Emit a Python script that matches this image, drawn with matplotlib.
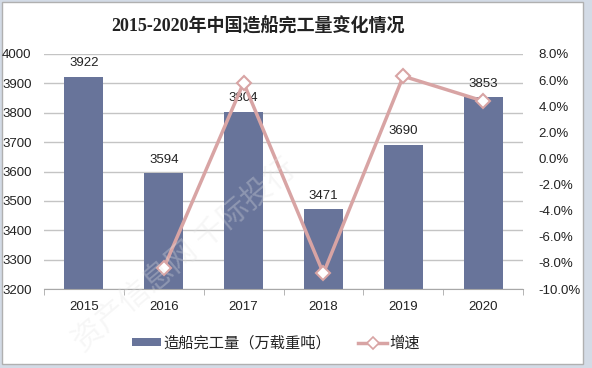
import matplotlib
matplotlib.use("Agg")
import matplotlib.pyplot as plt
from matplotlib.patches import Rectangle, Patch
from matplotlib.lines import Line2D
import numpy as np

plt.rcParams['font.family'] = ['Liberation Sans', 'Noto Sans CJK SC', 'DejaVu Sans']

years = ['2015', '2016', '2017', '2018', '2019', '2020']
output = [3922, 3594, 3804, 3471, 3690, 3853]
growth_years = ['2016', '2017', '2018', '2019', '2020']
growth = [-8.4, 5.8, -8.8, 6.3, 4.4]
title = '2015-2020年中国造船完工量变化情况'
bar_label = '造船完工量（万载重吨）'
line_label = '增速'
watermark = '资产信息网 千际投行'

W, H = 592, 368
fig = plt.figure(figsize=(W / 100, H / 100), dpi=100, facecolor='#d3dbe6')
fig.patches.append(Rectangle((2 / W, 4 / H), 581 / W, 362 / H, transform=fig.transFigure,
                             facecolor='white', edgecolor='#b0b0b0', linewidth=1.0, zorder=-5))

bar_color = '#68749a'
line_color = '#d8a4a4'

ax = fig.add_axes([44 / W, 1 - 289 / H, 479 / W, 235 / H])
ax.set_facecolor('none')
x = np.arange(len(years))
bars = ax.bar(x, output, width=0.49, color=bar_color, zorder=2)
ax.set_ylim(3200, 4000)
ax.set_xlim(-0.5, len(years) - 0.5)
ax.set_yticks(np.arange(3200, 4001, 100))
ax.yaxis.grid(True, color='#c4c4c4', linewidth=1.0, zorder=0)
ax.set_axisbelow(True)
for s in ['top', 'right', 'left']:
    ax.spines[s].set_visible(False)
ax.spines['bottom'].set_color('#a8a8a8')
ax.spines['bottom'].set_zorder(3)
ax.set_xticks(x)
ax.set_xticklabels(years)
ax.set_xticks(np.arange(-0.5, len(years), 1.0), minor=True)
ax.tick_params(axis='x', which='major', length=0, pad=9, labelsize=9.5, colors='#222222')
ax.tick_params(axis='x', which='minor', length=4, color='#a8a8a8')
ax.tick_params(axis='y', length=0, pad=9, labelsize=9.5, colors='#222222')

for xi, v in zip(x, output):
    ax.annotate(str(v), (xi, v), xytext=(0, 5.5), textcoords='offset points',
                ha='center', va='bottom', fontsize=9.5, color='#222222', zorder=5)

ax2 = ax.twinx()
ax2.set_ylim(-10, 8)
ax2.set_yticks(np.arange(-10, 8.1, 2))
ax2.set_yticklabels(['%.1f%%' % t for t in np.arange(-10, 8.1, 2)])
for s in ['top', 'right', 'left', 'bottom']:
    ax2.spines[s].set_visible(False)
ax2.tick_params(axis='y', length=0, pad=11, labelsize=9.5, colors='#222222')
gx = [years.index(y) for y in growth_years]
ax2.plot(gx, growth, color=line_color, linewidth=2.5, marker='D', markersize=7,
         markerfacecolor='white', markeredgecolor=line_color, markeredgewidth=1.5, zorder=4)

fig.text(258 / W, 1 - 26 / H, title, ha='center', va='center', fontsize=13,
         fontweight='bold', color='#222222', family=['Liberation Serif', 'Noto Sans CJK SC'])

handles = [Patch(facecolor=bar_color, edgecolor='none'),
           Line2D([], [], color=line_color, linewidth=2.5, marker='D', markersize=6,
                  markerfacecolor='white', markeredgecolor=line_color, markeredgewidth=1.2)]
fig.legend(handles, [bar_label, line_label], loc='center', bbox_to_anchor=(276 / W, 1 - 343 / H),
           ncol=2, frameon=False, fontsize=11, handlelength=1.9, handleheight=0.4,
           columnspacing=1.8, handletextpad=0.15, labelcolor='#222222')

fig.text(185 / W, 1 - 255 / H, watermark, ha='center', va='center', rotation=40,
         fontsize=22, color='#e4e4e4', alpha=0.3, zorder=10,
         family=['Noto Sans CJK SC'])

fig.savefig('out.png', dpi=100, facecolor=fig.get_facecolor())
